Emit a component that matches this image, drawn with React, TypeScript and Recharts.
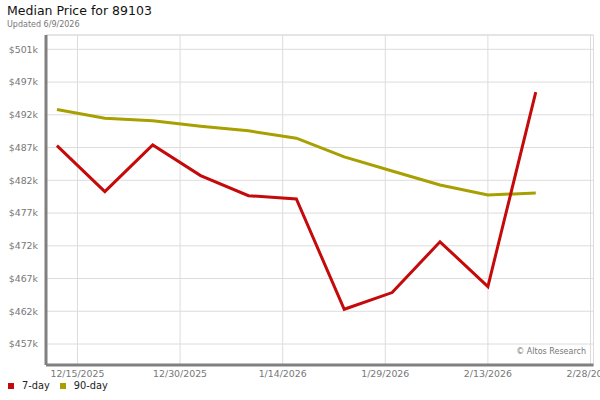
import React from "react";
import { LineChart, Line, XAxis, YAxis, CartesianGrid, ReferenceLine } from "recharts";

const TITLE = "Median Price for 89103";
const SUBTITLE = "Updated 6/9/2026";
const WATERMARK = "© Altos Research";

const dates = [
  "2025-12-12", "2025-12-19", "2025-12-26", "2026-01-02", "2026-01-09", "2026-01-16",
  "2026-01-23", "2026-01-30", "2026-02-06", "2026-02-13", "2026-02-20",
];
const sevenDay = [486600, 479700, 486700, 482100, 479100, 478600, 462100, 464600, 472200, 465500, 494600];
const ninetyDay = [492000, 490700, 490300, 489500, 488800, 487700, 484900, 482800, 480700, 479200, 479500];

const xTickDates = ["2025-12-15", "2025-12-30", "2026-01-14", "2026-01-29", "2026-02-13", "2026-02-28"];
const xTickLabels = ["12/15/2025", "12/30/2025", "1/14/2026", "1/29/2026", "2/13/2026", "2/28/2026"];

const yTickValues = [456900, 461800, 466700, 471600, 476500, 481400, 486300, 491200, 496100, 501000];
const yTickLabels = ["$457k", "$462k", "$467k", "$472k", "$477k", "$482k", "$487k", "$492k", "$497k", "$501k"];

const seriesNames = ["7-day", "90-day"];
const seriesColors = ["#c40a0a", "#a89f00"];

const DAY = 86400000;
const base = Date.UTC(2025, 11, 15);
const toDay = (s: string) => {
  const [y, m, d] = s.split("-").map(Number);
  return (Date.UTC(y, m - 1, d) - base) / DAY;
};

const data = dates.map((d, i) => ({ day: toDay(d), a: sevenDay[i], b: ninetyDay[i] }));
const xTicks = xTickDates.map(toDay);

const X_DOMAIN: [number, number] = [-4.6, 75.44];
const Y_DOMAIN: [number, number] = [453760, 503145];

const FONT = "'DejaVu Sans', sans-serif";

const XTick = (props: any) => {
  const { x, payload } = props;
  const idx = xTicks.indexOf(payload.value);
  return (
    <text x={x} y={377} textAnchor="middle" fontSize={9.4} fill="#777" fontFamily={FONT}>
      {xTickLabels[idx]}
    </text>
  );
};

const YTick = (props: any) => {
  const { y, payload } = props;
  const idx = yTickValues.indexOf(payload.value);
  return (
    <text x={38} y={y + 3.4} textAnchor="end" fontSize={9.4} fill="#777" fontFamily={FONT}>
      {yTickLabels[idx]}
    </text>
  );
};

export default function App() {
  return (
    <div style={{ position: "absolute", left: 0, top: 0, width: 600, height: 400, background: "#fff", fontFamily: FONT }}>
      <div style={{ position: "absolute", left: 7, top: 3, fontSize: 12.5, color: "#111", whiteSpace: "nowrap", lineHeight: "16px" }}>
        {TITLE}
      </div>
      <div style={{ position: "absolute", left: 7, top: 20, fontSize: 8, color: "#777", whiteSpace: "nowrap", lineHeight: "10px" }}>
        {SUBTITLE}
      </div>
      <LineChart width={600} height={400} data={data} margin={{ top: 35, right: 6.5, bottom: 15, left: 0 }}>
        <CartesianGrid stroke="#dcdcdc" strokeWidth={1} />
        <ReferenceLine y={Y_DOMAIN[1]} stroke="#dcdcdc" strokeWidth={1} ifOverflow="extendDomain" />
        <ReferenceLine x={X_DOMAIN[1]} stroke="#dcdcdc" strokeWidth={1} ifOverflow="extendDomain" />
        <XAxis
          dataKey="day"
          type="number"
          domain={X_DOMAIN}
          ticks={xTicks}
          tick={<XTick />}
          tickLine={false}
          axisLine={{ stroke: "#808080", strokeWidth: 3 }}
          height={20}
          allowDataOverflow
        />
        <YAxis
          type="number"
          domain={Y_DOMAIN}
          ticks={yTickValues}
          tick={<YTick />}
          tickLine={false}
          axisLine={{ stroke: "#808080", strokeWidth: 3 }}
          width={46}
          allowDataOverflow
        />
        <Line type="linear" dataKey="b" stroke={seriesColors[1]} strokeWidth={3} dot={false} isAnimationActive={false} />
        <Line type="linear" dataKey="a" stroke={seriesColors[0]} strokeWidth={3} dot={false} isAnimationActive={false} />
      </LineChart>
      <div style={{ position: "absolute", right: 14, top: 347, fontSize: 8, color: "#777", whiteSpace: "nowrap", lineHeight: "10px" }}>
        {WATERMARK}
      </div>
      <div style={{ position: "absolute", left: 8, top: 380, fontSize: 9.8, color: "#222", whiteSpace: "nowrap", lineHeight: "12px", display: "flex", alignItems: "center" }}>
        {seriesNames.map((n, i) => (
          <span key={n} style={{ display: "inline-flex", alignItems: "center", marginRight: i === 0 ? 10 : 0 }}>
            <span style={{ display: "inline-block", width: 6, height: 6, background: seriesColors[i], marginRight: 8 }} />
            {n}
          </span>
        ))}
      </div>
    </div>
  );
}
